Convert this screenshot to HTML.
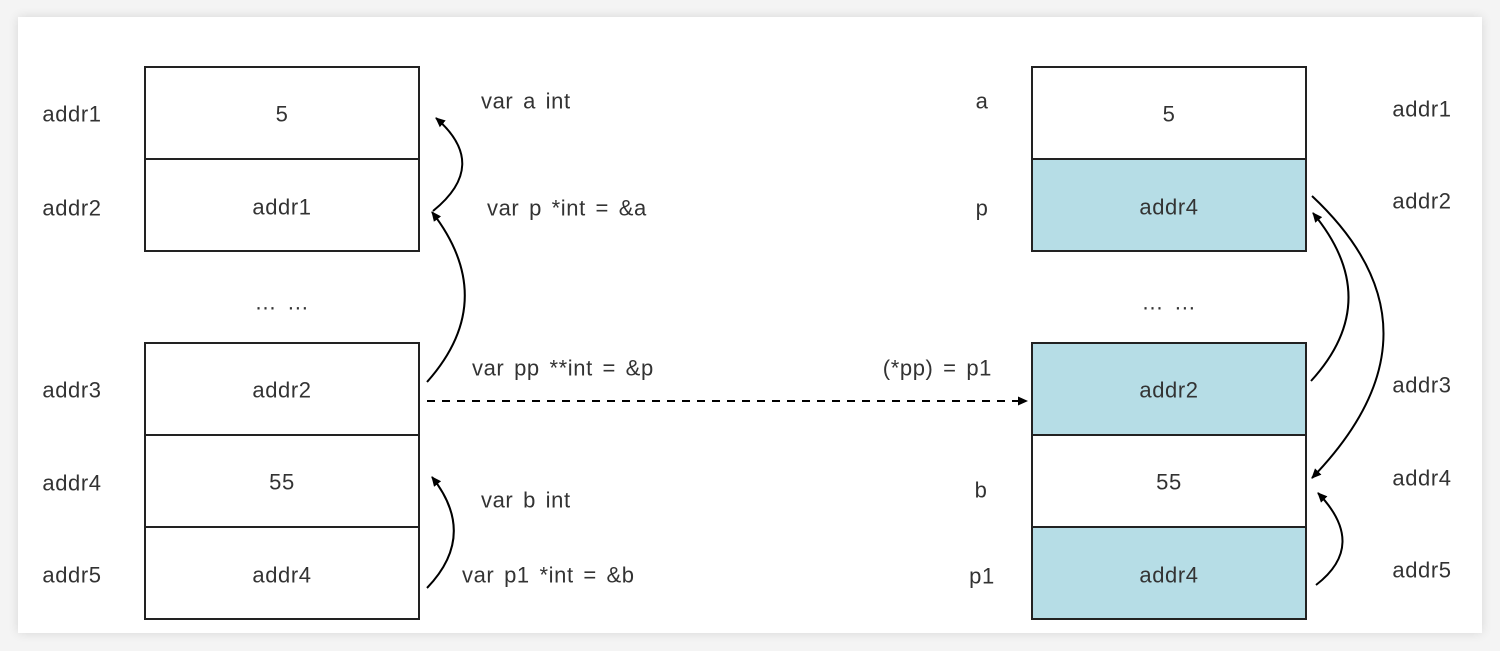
<!DOCTYPE html>
<html><head><meta charset="utf-8"><style>
html,body{margin:0;padding:0;background:#f4f4f4;width:1500px;height:651px;overflow:hidden}
#card{position:absolute;left:18px;top:17px;width:1464px;height:616px;background:#fff;box-shadow:0 0 10px rgba(0,0,0,0.12)}
svg{position:absolute;left:0;top:0}
text{font-family:"Liberation Sans",sans-serif;font-size:22px;fill:#333;letter-spacing:0.6px;word-spacing:3px}
</style></head><body>
<div id="card"></div>
<svg width="1500" height="651">
<defs><marker id="ah" markerWidth="12" markerHeight="12" refX="9" refY="5.5" orient="auto" markerUnits="userSpaceOnUse"><path d="M0,1 L10,5.5 L0,10 Z" fill="#000"/></marker></defs>
<g stroke="#222" stroke-width="2">
<rect x="145" y="67" width="274" height="92" fill="#fff"/>
<rect x="145" y="159" width="274" height="92" fill="#fff"/>
<rect x="145" y="343" width="274" height="92" fill="#fff"/>
<rect x="145" y="435" width="274" height="92" fill="#fff"/>
<rect x="145" y="527" width="274" height="92" fill="#fff"/>
</g>
<g stroke="#222" stroke-width="2">
<rect x="1032" y="67" width="274" height="92" fill="#fff"/>
<rect x="1032" y="159" width="274" height="92" fill="#b6dde6"/>
<rect x="1032" y="343" width="274" height="92" fill="#b6dde6"/>
<rect x="1032" y="435" width="274" height="92" fill="#fff"/>
<rect x="1032" y="527" width="274" height="92" fill="#b6dde6"/>
</g>
<g text-anchor="middle" dominant-baseline="central">
<text x="282" y="114">5</text><text x="282" y="207">addr1</text><text x="282" y="390">addr2</text><text x="282" y="482">55</text><text x="282" y="575">addr4</text>
<text x="1169" y="114">5</text><text x="1169" y="207">addr4</text><text x="1169" y="390">addr2</text><text x="1169" y="482">55</text><text x="1169" y="575">addr4</text>
<text x="72" y="114">addr1</text><text x="72" y="208">addr2</text><text x="72" y="390">addr3</text><text x="72" y="483">addr4</text><text x="72" y="575">addr5</text>
<text x="1422" y="109">addr1</text><text x="1422" y="201">addr2</text><text x="1422" y="385">addr3</text><text x="1422" y="478">addr4</text><text x="1422" y="570">addr5</text>
<text x="282" y="302">… …</text><text x="1169" y="302">… …</text>
<text x="982" y="101">a</text><text x="982" y="208">p</text><text x="981" y="490">b</text><text x="982" y="576">p1</text>
</g>
<g dominant-baseline="central">
<text x="481" y="101">var a int</text>
<text x="487" y="208">var p *int = &amp;a</text>
<text x="472" y="368">var pp **int = &amp;p</text>
<text x="481" y="500">var b int</text>
<text x="462" y="575">var p1 *int = &amp;b</text>
<text x="992" y="368" text-anchor="end">(*pp) = p1</text>
</g>
<g fill="none" stroke="#000" stroke-width="2" marker-end="url(#ah)">
<path d="M433,211 Q490,165 436,118"/>
<path d="M427,382 Q500,300 432,212"/>
<path d="M427,588 Q478,535 432,477"/>
<path d="M427,401 L1027,401" stroke-dasharray="8,7"/>
<path d="M1311,381 Q1385,300 1313,213"/>
<path d="M1312,196 Q1455,330 1312,478"/>
<path d="M1316,585 Q1368,545 1318,493"/>
</g>
</svg>
</body></html>
